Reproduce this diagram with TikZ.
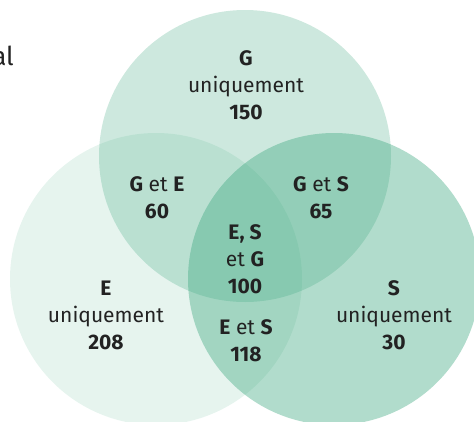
\documentclass[tikz,border=0pt]{standalone}
\usepackage{fontspec}
\setmainfont{Fira Sans}
\definecolor{venn}{RGB}{55,165,123}
\definecolor{ink}{RGB}{34,34,34}
\begin{document}
\begin{tikzpicture}[x=1pt,y=-1pt,
  setfill/.style={fill=venn,fill opacity=#1,draw=none},
  lab/.style={align=center,text=ink,inner sep=0pt,font=\fontsize{21}{27}\selectfont}]
\useasboundingbox (0,0) rectangle (474,421);
% the three sets, lightest first
\fill[setfill=0.125] (156,279) circle (146);
\fill[setfill=0.25] (245,156) circle (146);
\fill[setfill=0.39] (334,279) circle (146);
% truncated heading at the left edge
\node[anchor=base east,text=ink,inner sep=0pt,font=\fontsize{26}{30}\selectfont] (head) at (14,65) {al};
% region labels
\node[lab] (g)   at (246,85)  {\textbf{G}\\uniquement\\\textbf{150}};
\node[lab] (ge)  at (157,198) {\textbf{G} et \textbf{E}\\\textbf{60}};
\node[lab] (gs)  at (321,198) {\textbf{G} et \textbf{S}\\\textbf{65}};
\node[lab] (esg) at (245,259) {\textbf{E, S}\\et \textbf{G}\\\textbf{100}};
\node[lab] (e)   at (106,315) {\textbf{E}\\uniquement\\\textbf{208}};
\node[lab] (es)  at (246,341) {\textbf{E} et \textbf{S}\\\textbf{118}};
\node[lab] (s)   at (394,315) {\textbf{S}\\uniquement\\\textbf{30}};
\end{tikzpicture}
\end{document}
